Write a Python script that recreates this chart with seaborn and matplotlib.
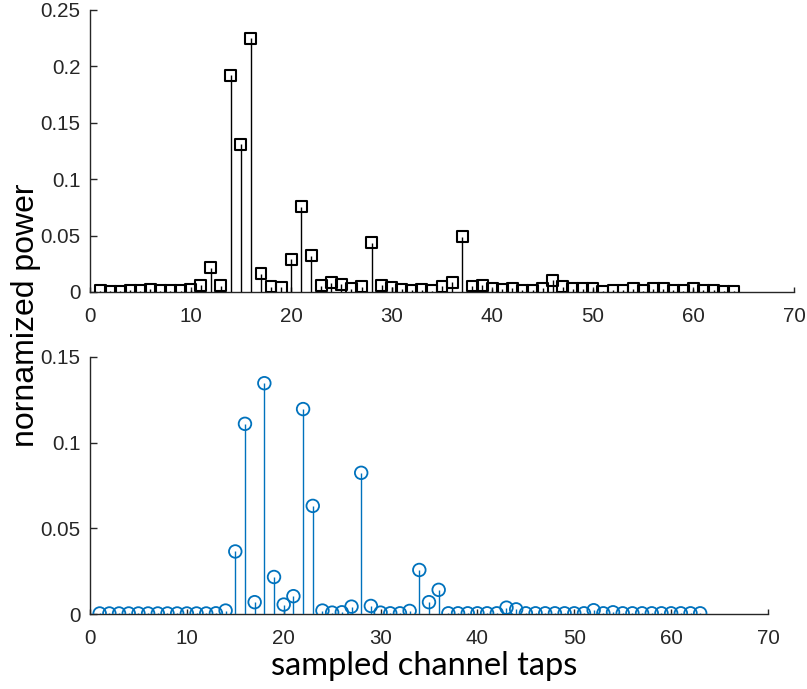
import numpy as np
import pandas as pd
import matplotlib
matplotlib.use("Agg")
import matplotlib.pyplot as plt
import seaborn as sns

# ---- data ----
taps_top = list(range(1, 65))
power_top = [0.001, 0.0006, 0.0006, 0.0018, 0.001, 0.0024, 0.001, 0.001, 0.001, 0.002,
             0.006, 0.0216, 0.0056, 0.192, 0.131, 0.225, 0.016, 0.0047, 0.0044, 0.029,
             0.0757, 0.032, 0.0056, 0.0083, 0.007, 0.0027, 0.0047, 0.0435, 0.0059, 0.0044,
             0.0024, 0.0018, 0.002, 0.001, 0.005, 0.0086, 0.0488, 0.0053, 0.0059, 0.0027,
             0.0024, 0.0033, 0.0015, 0.0015, 0.0033, 0.0103, 0.0047, 0.003, 0.0027, 0.0027,
             0.0006, 0.0018, 0.0018, 0.0027, 0.0012, 0.0027, 0.0027, 0.0018, 0.001, 0.0027,
             0.0015, 0.0018, 0.0006, 0.0006]

taps_bot = list(range(1, 64))
power_bot = [0.0003, 0.0003, 0.0003, 0.0003, 0.0003, 0.0003, 0.0003, 0.0003, 0.0003, 0.0003,
             0.0003, 0.0003, 0.0004, 0.002, 0.0365, 0.111, 0.0069, 0.1347, 0.0216, 0.0055,
             0.0104, 0.1196, 0.0631, 0.002, 0.0008, 0.001, 0.0043, 0.0824, 0.0047, 0.0008,
             0.0004, 0.0004, 0.0018, 0.0257, 0.0069, 0.0141, 0.0004, 0.0004, 0.0004, 0.0004,
             0.0004, 0.0004, 0.0037, 0.0027, 0.0004, 0.0004, 0.0004, 0.0004, 0.0004, 0.0004,
             0.0004, 0.0022, 0.0004, 0.001, 0.0004, 0.0004, 0.0004, 0.0004, 0.0004, 0.0004,
             0.0004, 0.0004, 0.0004]

top_yticks = [0, 0.05, 0.1, 0.15, 0.2, 0.25]
top_ylabels = ["0", "0.05", "0.1", "0.15", "0.2", "0.25"]
bot_yticks = [0, 0.05, 0.1, 0.15]
bot_ylabels = ["0", "0.05", "0.1", "0.15"]
xticks = [0, 10, 20, 30, 40, 50, 60, 70]

df_top = pd.DataFrame({"tap": taps_top, "power": power_top})
df_bot = pd.DataFrame({"tap": taps_bot, "power": power_bot})

sns.set_theme(style="ticks")
plt.rcParams["font.family"] = ["Liberation Sans", "DejaVu Sans"]

fig = plt.figure(figsize=(8.07, 6.89), dpi=100)
ax1 = fig.add_axes([90/807, 1-292/689, 704/807, 282/689])
ax2 = fig.add_axes([90/807, 1-614/689, 678/807, 257/689])

axis_col = "#262626"
blue = "#0072BD"

# top stems
ax1.vlines(df_top["tap"], 0, df_top["power"], color="black", linewidth=1.0, zorder=2)
sns.scatterplot(data=df_top, x="tap", y="power", marker="s", s=62,
                facecolor="none", edgecolor="black", linewidth=1.5, ax=ax1, zorder=3)

# bottom stems
ax2.vlines(df_bot["tap"], 0, df_bot["power"], color=blue, linewidth=1.0, zorder=2)
sns.scatterplot(data=df_bot, x="tap", y="power", marker="o", s=82,
                facecolor="none", edgecolor=blue, linewidth=1.3, ax=ax2, zorder=3)

for ax, yt, yl, ylim in [(ax1, top_yticks, top_ylabels, 0.25), (ax2, bot_yticks, bot_ylabels, 0.15)]:
    ax.set_xlim(0, 70)
    ax.set_ylim(0, ylim)
    ax.set_xticks(xticks)
    ax.set_xticklabels([str(t) for t in xticks])
    ax.set_yticks(yt)
    ax.set_yticklabels(yl)
    ax.set_xlabel("")
    ax.set_ylabel("")
    for sp in ["top", "right"]:
        ax.spines[sp].set_visible(False)
    for sp in ["left", "bottom"]:
        ax.spines[sp].set_color(axis_col)
        ax.spines[sp].set_linewidth(1.0)
        ax.spines[sp].set_zorder(1)
    ax.tick_params(axis="y", direction="in", length=5, width=1.0, color=axis_col,
                   labelcolor=axis_col, labelsize=14.8, pad=7)
    ax.tick_params(axis="x", direction="in", length=3.7, width=1.0, color=axis_col,
                   labelcolor=axis_col, labelsize=14.8, pad=11)
    ax.patch.set_visible(False)

fig.text(26/807, 1-315/689, "nornamized power", rotation=90, ha="center", va="center",
         fontsize=23, color="black", family=["Liberation Sans", "DejaVu Sans"])
fig.text(424/807, 1-666/689, "sampled channel taps", ha="center", va="center",
         fontsize=23.5, color="black", family=["Lato", "DejaVu Sans"])

fig.savefig("out.png", dpi=100)
